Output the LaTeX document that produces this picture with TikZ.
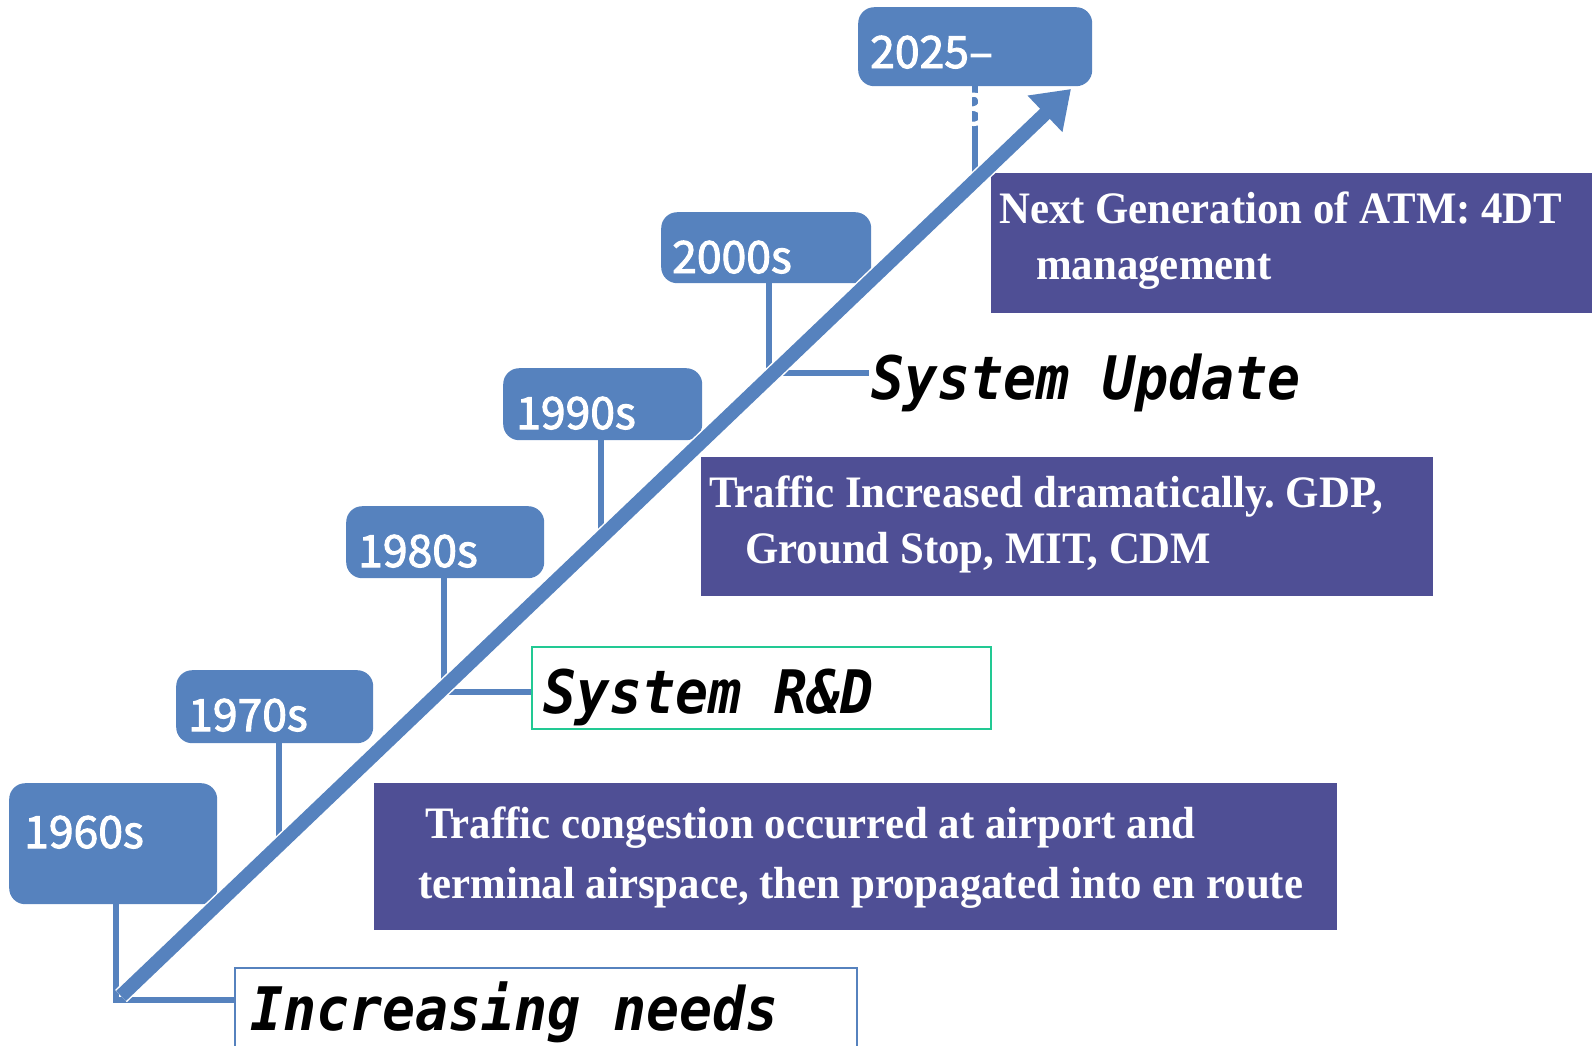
\documentclass[tikz,border=0pt]{standalone}
\usepackage{fontspec}
\setmainfont{Liberation Serif}
\newfontfamily\yearfont[FakeBold=2.2]{Noto Sans CJK SC}
\newfontfamily\phasefont[FakeStretch=0.915]{DejaVu Sans Mono Bold Oblique}
\newfontfamily\infofont[FakeStretch=0.952]{Liberation Serif Bold}
\usetikzlibrary{arrows.meta}
\definecolor{boxblue}{HTML}{5682BE}
\definecolor{boxpurple}{HTML}{4F4F95}
\definecolor{rdgreen}{HTML}{22C993}
\frenchspacing
\begin{document}
\begin{tikzpicture}[x=1pt,y=-1pt,
  yearbox/.style={fill=boxblue, rounded corners=16pt, inner sep=0pt, anchor=north west},
  yeartext/.style={text=white, font=\yearfont\fontsize{44.5}{44}\selectfont, anchor=base west, inner sep=0pt},
  stem/.style={draw=boxblue, line width=5.5pt},
  infobox/.style={fill=boxpurple, inner sep=0pt, anchor=north west},
  infotext/.style={text=white, font=\infofont\fontsize{45}{45}\selectfont, anchor=base west, inner sep=0pt},
  phase/.style={font=\phasefont\fontsize{60}{60}\selectfont, anchor=base west, inner sep=0pt}
]
\useasboundingbox (0,0) rectangle (1592,1045);

% year boxes
\node[yearbox, minimum width=208pt, minimum height=121pt] (b60) at (9,783) {};
\node[yearbox, minimum width=197pt, minimum height=73pt] (b70) at (176,670) {};
\node[yearbox, minimum width=198pt, minimum height=72pt] (b80) at (346,506) {};
\node[yearbox, minimum width=199pt, minimum height=72pt] (b90) at (503,368) {};
\node[yearbox, minimum width=210pt, minimum height=71pt] (b00) at (661,212) {};
\node[yearbox, minimum width=234pt, minimum height=79pt] (b25) at (858,7) {};

\node[yeartext] (t60) at (24,848) {1960s};
\node[yeartext] (t70) at (188,731) {1970s};
\node[yeartext] (t80) at (358,567) {1980s};
\node[yeartext] (t90) at (516,429) {1990s};
\node[yeartext] (t00) at (672,273) {2000s};
\node[yeartext] (t25) at (870,68) {2025–};

% info boxes
\node[infobox, minimum width=620pt, minimum height=140pt] (ng) at (991,173) {};
\node[infobox, minimum width=732pt, minimum height=139pt] (ti) at (701,457) {};
\node[infobox, minimum width=963pt, minimum height=147pt] (tc) at (374,783) {};

\node[infotext] (ng1) at (999,223) {Next Generation of ATM: 4DT};
\node[infotext] (ng2) at (1036,279) {management};
\node[infotext] (ti1) at (709,507) {Traffic Increased dramatically. GDP,};
\node[infotext] (ti2) at (745,563) {Ground Stop, MIT, CDM};
\node[infotext] (tc1) at (425,838) {Traffic congestion occurred at airport and};
\node[infotext] (tc2) at (418,898) {terminal airspace, then propagated into en route};

% phase labels
\node[draw=boxblue, line width=1.5pt, inner sep=0pt, anchor=north west,
      minimum width=622pt, minimum height=100pt] (needsbox) at (234,967) {};
\node[phase] (needs) at (250,1030) {Increasing needs};
\node[draw=rdgreen, line width=2pt, inner sep=0pt, anchor=north west,
      minimum width=459pt, minimum height=82pt] (rdbox) at (531,646) {};
\node[phase] (rd) at (543,713) {System R\&D};
\node[phase] (upd) at (871,399) {System Update};

% stems
\coordinate (s) at (121,996);
\coordinate (e) at (1071,89);
\draw[stem] (b60.south -| 116,0) -- (116,1000) -- (needsbox.west |- 0,1000);
\draw[stem] (b70.south -| 279,0) -- (279,846);
\draw[stem] (b80.south -| 444,0) -- (444,692) -- (rdbox.west |- 0,692);
\draw[stem] (b90.south -| 601,0) -- (601,539);
\draw[stem] (b00.south -| 769,0) -- (769,373) -- (869,373);
\draw[stem] (b25.south -| 975,0) -- (975,183);
\node[text=white, font=\yearfont\fontsize{44}{44}\selectfont, anchor=base west, inner sep=0pt] (ghost) at (962,125) {3};

% main arrow
\draw[white, line width=17pt, -{Triangle[length=39pt,width=54pt]}] (s) -- (e);
\draw[boxblue, line width=14pt, -{Triangle[length=36pt,width=48pt]}] (s) -- (e);
\end{tikzpicture}
\end{document}
